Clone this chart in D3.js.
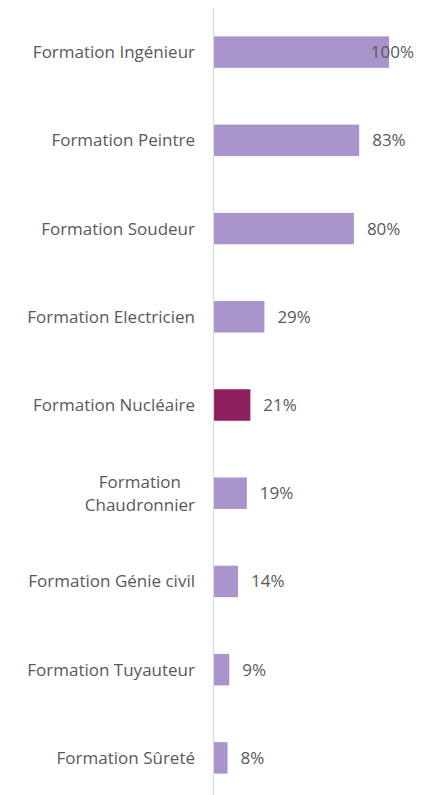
<!DOCTYPE html>
<html>
<head>
<meta charset="utf-8">
<script src="https://cdn.jsdelivr.net/npm/d3@7"></script>
<style>
  html, body { margin: 0; padding: 0; background: #ffffff; }
  svg { display: block; font-family: "Open Sans", "Noto Sans", sans-serif; }
</style>
</head>
<body>
<svg id="chart" width="434" height="795"></svg>
<script>
// Training programmes and their share (%)
const categories = [
  "Formation Ingénieur",
  "Formation Peintre",
  "Formation Soudeur",
  "Formation Electricien",
  "Formation Nucléaire",
  "Formation Chaudronnier",
  "Formation Génie civil",
  "Formation Tuyauteur",
  "Formation Sûreté"
];
const values = [100, 83, 80, 29, 21, 19, 14, 9, 8];
const highlighted = ["Formation Nucléaire"];

const svg = d3.select("#chart");
const W = 434;

const plot = { left: 213.5, right: 414, top: 8, bottom: 802 };

const x = d3.scaleLinear()
  .domain([0, 100])
  .range([plot.left, plot.left + 175.5]);

const y = d3.scaleBand()
  .domain(categories)
  .range([plot.top, plot.bottom])
  .paddingInner(0.643)
  .paddingOuter(0.3215);

const textColor = "#595959";
const fontSize = 17;

// bars
svg.append("g")
  .selectAll("rect")
  .data(categories)
  .join("rect")
  .attr("x", plot.left)
  .attr("y", d => y(d))
  .attr("width", (d, i) => x(values[i]) - plot.left)
  .attr("height", y.bandwidth())
  .attr("fill", d => highlighted.includes(d) ? "#8E1F5E" : "#A995CB");

// vertical axis line
svg.append("line")
  .attr("x1", plot.left).attr("x2", plot.left)
  .attr("y1", plot.top).attr("y2", 795)
  .attr("stroke", "#D9D9D9")
  .attr("stroke-width", 1.2);

// category labels, wrapped on words when too wide
const labelRight = 195;
const maxLabelWidth = 182;
const lineHeight = 23;
const catG = svg.append("g")
  .attr("font-size", fontSize)
  .attr("fill", textColor);

categories.forEach(cat => {
  const cy = y(cat) + y.bandwidth() / 2;
  const t = catG.append("text").attr("text-anchor", "end");
  t.text(cat);
  if (t.node().getComputedTextLength() <= maxLabelWidth) {
    t.attr("x", labelRight).attr("y", cy).attr("dy", "0.35em");
    return;
  }
  // split into lines
  const words = cat.split(" ");
  const lines = [];
  let cur = [];
  t.text(null);
  const probe = catG.append("text");
  words.forEach(w => {
    const test = cur.concat(w).join(" ");
    probe.text(test);
    if (probe.node().getComputedTextLength() > maxLabelWidth && cur.length) {
      lines.push(cur.join(" "));
      cur = [w];
    } else {
      cur.push(w);
    }
  });
  if (cur.length) lines.push(cur.join(" "));
  let maxW = 0;
  lines.forEach(l => { probe.text(l); maxW = Math.max(maxW, probe.node().getComputedTextLength()); });
  probe.remove();
  const cxText = labelRight - maxW / 2;
  t.attr("text-anchor", "middle");
  lines.forEach((l, k) => {
    t.append("tspan")
      .attr("x", cxText)
      .attr("y", cy + (k - (lines.length - 1) / 2) * lineHeight)
      .attr("dy", "0.35em")
      .text(l);
  });
});

// value labels, kept inside the plot area
const valG = svg.append("g")
  .attr("font-size", fontSize)
  .attr("fill", textColor);

categories.forEach((cat, i) => {
  const cy = y(cat) + y.bandwidth() / 2;
  const t = valG.append("text")
    .attr("y", cy)
    .attr("dy", "0.35em")
    .text(values[i] + "%");
  const w = t.node().getComputedTextLength();
  const lx = Math.min(x(values[i]) + 13, plot.right - w);
  t.attr("x", lx);
});
</script>
</body>
</html>
